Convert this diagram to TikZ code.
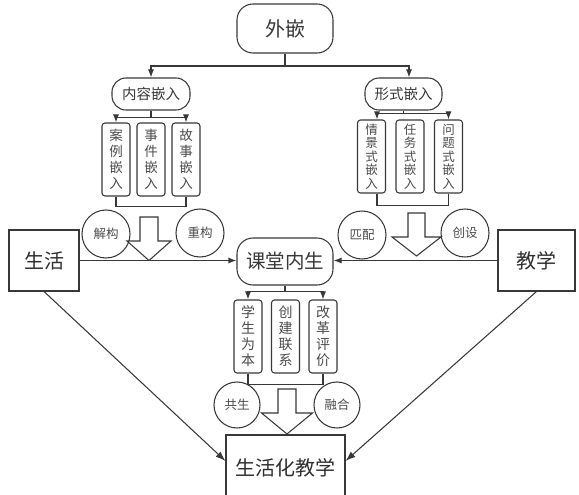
\documentclass[tikz,border=0pt]{standalone}
\usepackage{fontspec}
\setmainfont{Noto Sans CJK SC}
\usetikzlibrary{arrows.meta,calc}
\newcommand\hollowarr[6]{% cx, top, headstart, tip, halfshaft, halfhead
  \draw[ln,fill=white] (#1-#5,#2) -- (#1+#5,#2) -- (#1+#5,#3) -- (#1+#6,#3) -- (#1,#4) -- (#1-#6,#3) -- (#1-#5,#3) -- cycle;}
\begin{document}
\begin{tikzpicture}[x=1pt,y=-1pt,
  ln/.style={draw=black!78, line width=1.05pt},
  arr/.style={ln,-{Latex[length=8pt,width=6pt]}},
  pill/.style={ln, rounded corners=14pt, inner sep=0pt, text=black!78},
  vbox/.style={ln, rounded corners=3pt, minimum width=28pt, minimum height=73pt, inner sep=0pt, align=center, text=black!70},
  circ/.style={ln, circle, minimum size=48pt, inner sep=0pt, text=black!70, font=\fontsize{12.5}{14}\selectfont},
  sq/.style={ln, inner sep=0pt, text=black!82, font=\fontsize{20}{24}\selectfont}]
\useasboundingbox (0,0) rectangle (579,495);
\fill[white] (0,0) rectangle (579,495);
% top
\node[pill, rounded corners=16pt, minimum width=96pt, minimum height=49pt, font=\fontsize{20}{24}\selectfont] (wq) at (285,28.5) {外嵌};
\node[pill, minimum width=78pt, minimum height=32pt, font=\fontsize{14.5}{17}\selectfont] (nr) at (151,94) {内容嵌入};
\node[pill, minimum width=77pt, minimum height=32pt, font=\fontsize{14.5}{17}\selectfont] (xs) at (403.5,94) {形式嵌入};
% left boxes
\node[vbox, font=\fontsize{13.5}{16}\selectfont] (b1) at (116,159.5) {案\\例\\嵌\\入};
\node[vbox, font=\fontsize{13.5}{16}\selectfont] (b2) at (151,159.5) {事\\件\\嵌\\入};
\node[vbox, font=\fontsize{13.5}{16}\selectfont] (b3) at (186,159.5) {故\\事\\嵌\\入};
% right boxes
\node[vbox, font=\fontsize{12.5}{13.5}\selectfont] (c1) at (371.5,156.5) {情\\景\\式\\嵌\\入};
\node[vbox, font=\fontsize{12.5}{13.5}\selectfont] (c2) at (410,156.5) {任\\务\\式\\嵌\\入};
\node[vbox, font=\fontsize{12.5}{13.5}\selectfont] (c3) at (448.5,156.5) {问\\题\\式\\嵌\\入};
% connectors top
\draw[ln] (wq.south) -- (285,66) coordinate (j0);
\draw[arr] (j0) -| (nr.north);
\draw[arr] (j0) -| ($(xs.north)+(5.5,0)$);
\draw[ln] (nr.south) -- ++(0,7) coordinate (j1);
\draw[arr] (j1) -| (b1.north);
\draw[arr] (j1) -| (b3.north);
\draw[ln] (xs.south) -- ++(0,3) coordinate (j2);
\draw[arr] (j2) -| ($(c1.north)+(5.5,0)$);
\draw[arr] (j2) -| (c3.north);
\draw[ln] (b1.south) -- ++(0,10) -| (b3.south);
\draw[ln] ($(c1.south)+(5.5,0)$) -- ++(0,12) -| (c3.south);
% circles middle
\node[circ] (jg) at (106,234) {解构};
\node[circ] (cg) at (200,233) {重构};
\node[circ] (pp) at (362,235) {匹配};
\node[circ] (cs) at (465,233) {创设};
% main row
\node[sq, minimum width=70pt, minimum height=61pt] (sh) at (44,260.5) {生活};
\node[sq, minimum width=77pt, minimum height=61pt] (jx) at (536.5,260.5) {教学};
\node[pill, rounded corners=16pt, minimum width=96pt, minimum height=47pt, font=\fontsize{19.5}{23}\selectfont] (kt) at (285,261.5) {课堂内生};
\draw[arr] (sh.east) -- (sh.east -| kt.west);
\draw[arr] (jx.west) -- (jx.west -| kt.east);
\hollowarr{149}{217}{241}{260.5}{9}{22}
\hollowarr{416.5}{213}{237}{256}{8.5}{24.5}
% lower boxes
\node[vbox, font=\fontsize{14}{16}\selectfont] (d1) at (248,336.5) {学\\生\\为\\本};
\node[vbox, font=\fontsize{14}{16}\selectfont] (d2) at (285.5,336.5) {创\\建\\联\\系};
\node[vbox, font=\fontsize{14}{16}\selectfont] (d3) at (323,336.5) {改\\革\\评\\价};
\draw[ln] (kt.south) -- ++(0,6) coordinate (j3);
\draw[arr] (j3) -| (d1.north);
\draw[arr] (j3) -| (d3.north);
\draw[ln] (d1.south) -- ++(0,11) -| (d3.south);
\node[circ, minimum size=46pt] (gs) at (237,405) {共生};
\node[circ, minimum size=46pt] (rh) at (337,405) {融合};
\hollowarr{287}{389}{413}{434}{9}{25.5}
\node[sq, minimum width=119pt, minimum height=66pt] (sj) at (285.5,468) {生活化教学};
\draw[arr,-{Latex[length=10pt,width=7pt]}] (sh.south) -- ($(sj.west)+(0,-7)$);
\draw[arr,-{Latex[length=10pt,width=7pt]}] (jx.south) -- ($(sj.east)+(0,-7)$);
\end{tikzpicture}
\end{document}
